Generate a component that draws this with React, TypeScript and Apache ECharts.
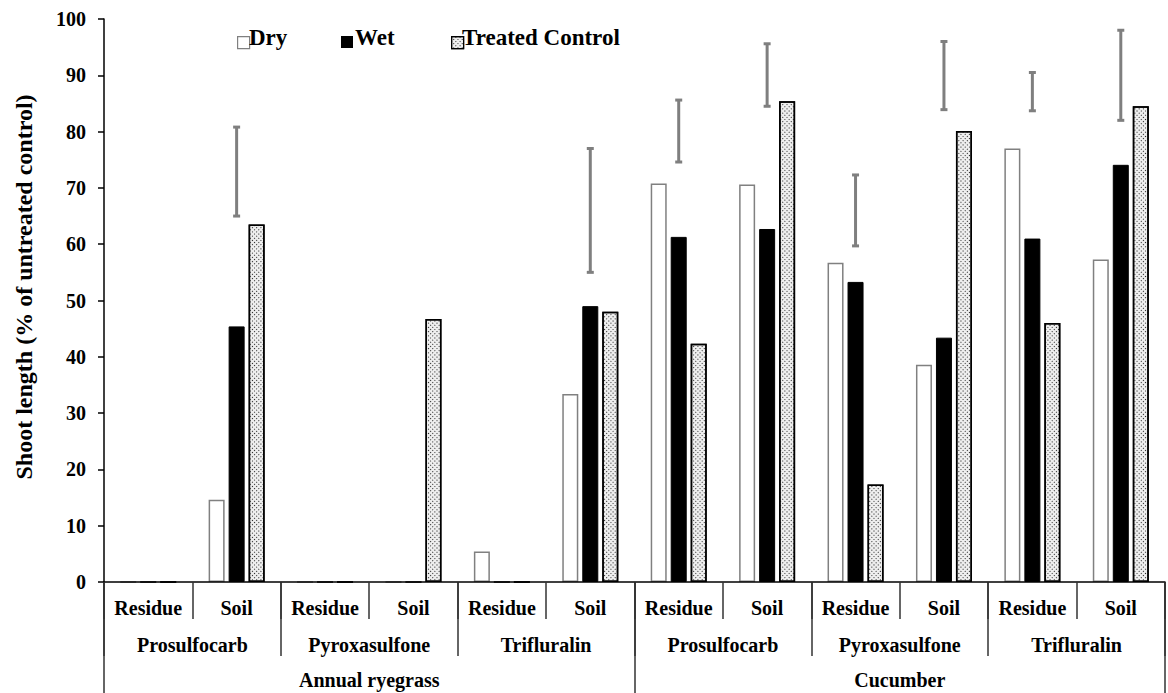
import React, { useEffect, useRef } from "react";
import * as echarts from "echarts";

const categories = ["Residue", "Soil", "Residue", "Soil", "Residue", "Soil", "Residue", "Soil", "Residue", "Soil", "Residue", "Soil"];
const herbicides = ["Prosulfocarb", "Pyroxasulfone", "Trifluralin", "Prosulfocarb", "Pyroxasulfone", "Trifluralin"];
const species = ["Annual ryegrass", "Cucumber"];
const yTickValues = [0, 10, 20, 30, 40, 50, 60, 70, 80, 90, 100];
const seriesNames = ["Dry", "Wet", "Treated Control"];
const yTitle = "Shoot length (% of untreated control)";

const dry = [0, 14.6, 0, 0, 5.4, 33.4, 70.8, 70.6, 56.7, 38.6, 77.0, 57.3];
const wet = [0, 45.4, 0, 0, 0, 49.0, 61.3, 62.7, 53.3, 43.4, 61.0, 74.1];
const treated = [0, 63.5, 0, 46.7, 0, 48.0, 42.3, 85.4, 17.3, 80.1, 46.0, 84.5];
const errLow = [null, 65.0, null, null, null, 55.0, 74.6, 84.5, 59.7, 83.9, 83.7, 82.0];
const errHigh = [null, 80.8, null, null, null, 77.0, 85.6, 95.6, 72.3, 96.0, 90.5, 98.0];

const FONT = "Liberation Serif";
const GRID = { left: 104, right: 3, top: 19, bottom: 111 };

export default function App() {
  const ref = useRef<HTMLDivElement>(null);
  useEffect(() => {
    if (!ref.current) return;
    const chart = echarts.init(ref.current, null, { renderer: "svg" });

    const errData = errLow
      .map((lo, i) => (lo == null || errHigh[i] == null ? null : [i, lo, errHigh[i]]))
      .filter((d) => d !== null);

    const tickStyle = { color: "#333", width: 1.5 };
    const dotted = {
      symbol: "rect",
      symbolSize: 1,
      color: "#222",
      dashArrayX: [1, 2],
      dashArrayY: [1, 2],
      rotation: Math.PI / 4,
    };
    const styles: any[] = [
      { color: "#fff", borderColor: "#808080", borderWidth: 1.5 },
      { color: "#000", borderColor: "#000", borderWidth: 1 },
      { color: "#eeeeee", borderColor: "#000", borderWidth: 1.5, decal: dotted },
    ];
    const legendLeft = [232, 336, 446];

    chart.setOption({
      animation: false,
      grid: { ...GRID, containLabel: false },
      legend: seriesNames.map((n, k) => ({
        data: [n],
        left: legendLeft[k],
        top: 31,
        itemWidth: 12,
        itemHeight: 12,
        icon: "rect",
        selectedMode: false,
        formatter: () => "",
        textStyle: { fontSize: 10 },
        itemStyle: { borderWidth: k === 1 ? 0 : 1.2 },
      })),
      xAxis: [
        {
          type: "category",
          data: categories,
          position: "bottom",
          offset: 0,
          z: 10,
          axisLine: { show: true, lineStyle: { color: "#000", width: 1.5 } },
          axisTick: { show: true, interval: 0, length: 37, lineStyle: tickStyle },
          axisLabel: { show: false },
        },
        {
          type: "category",
          data: herbicides,
          position: "bottom",
          offset: 0,
          axisLine: { show: false },
          axisTick: { show: true, interval: 0, length: 74, lineStyle: tickStyle },
          axisLabel: { show: false },
        },
        {
          type: "category",
          data: species,
          position: "bottom",
          offset: 0,
          axisLine: { show: false },
          axisTick: { show: true, interval: 0, length: 112, lineStyle: tickStyle },
          axisLabel: { show: false },
        },
      ],
      yAxis: {
        type: "value",
        min: 0,
        max: 100,
        interval: 10,
        z: 10,
        splitLine: { show: false },
        axisLine: { show: true, lineStyle: { color: "#000", width: 1.5 } },
        axisTick: { show: true, length: 6, lineStyle: { color: "#000", width: 1.5 } },
        axisLabel: { show: false },
      },
      series: [
        ...[dry, wet, treated].map((d, k) => ({
          name: seriesNames[k],
          type: "bar",
          data: d,
          barWidth: 16,
          barGap: "25%",
          itemStyle: styles[k],
        })),
        {
          name: "LSD",
          type: "custom",
          data: errData,
          z: 5,
          renderItem: (params: any, api: any) => {
            const x = api.value(0);
            const top = api.coord([x, api.value(2)]);
            const bot = api.coord([x, api.value(1)]);
            const style = { stroke: "#7f7f7f", lineWidth: 3 };
            return {
              type: "group",
              children: [
                { type: "line", shape: { x1: top[0], y1: top[1], x2: bot[0], y2: bot[1] }, style },
                { type: "line", shape: { x1: top[0] - 3.5, y1: top[1], x2: top[0] + 3.5, y2: top[1] }, style },
                { type: "line", shape: { x1: bot[0] - 3.5, y1: bot[1], x2: bot[0] + 3.5, y2: bot[1] }, style },
              ],
            };
          },
        },
      ],
    });

    const txt = (text: string, x: number, y: number, size: number, align: string, extra: any = {}) => ({
      type: "text",
      x,
      y,
      z: 20,
      ...extra,
      style: { text, fontFamily: FONT, fontWeight: "bold", fontSize: size, fill: "#000", align, verticalAlign: "middle" },
    });
    const cx = (i: number) => chart.convertToPixel({ xAxisIndex: 0 }, i) as number;
    const gfx: any[] = [];
    categories.forEach((c, i) => gfx.push(txt(c, cx(i), 608, 20, "center")));
    herbicides.forEach((h, j) => gfx.push(txt(h, (cx(2 * j) + cx(2 * j + 1)) / 2, 645, 20, "center")));
    species.forEach((s, k) => gfx.push(txt(s, (cx(6 * k) + cx(6 * k + 5)) / 2, 680, 20, "center")));
    yTickValues.forEach((v) => {
      const py = chart.convertToPixel({ yAxisIndex: 0 }, v) as number;
      gfx.push(txt(String(v), GRID.left - 18, py, 20, "right"));
    });
    gfx.push(txt(yTitle, 24, 287, 24, "center", { rotation: Math.PI / 2 }));
    const legendTextX = [249, 355, 462];
    seriesNames.forEach((n, k) => gfx.push(txt(n, legendTextX[k], 37.5, 23, "left")));

    chart.setOption({ graphic: gfx });
    return () => chart.dispose();
  }, []);
  return <div ref={ref} style={{ position: "fixed", left: 0, top: 0, width: 1168, height: 693, background: "#fff" }} />;
}
